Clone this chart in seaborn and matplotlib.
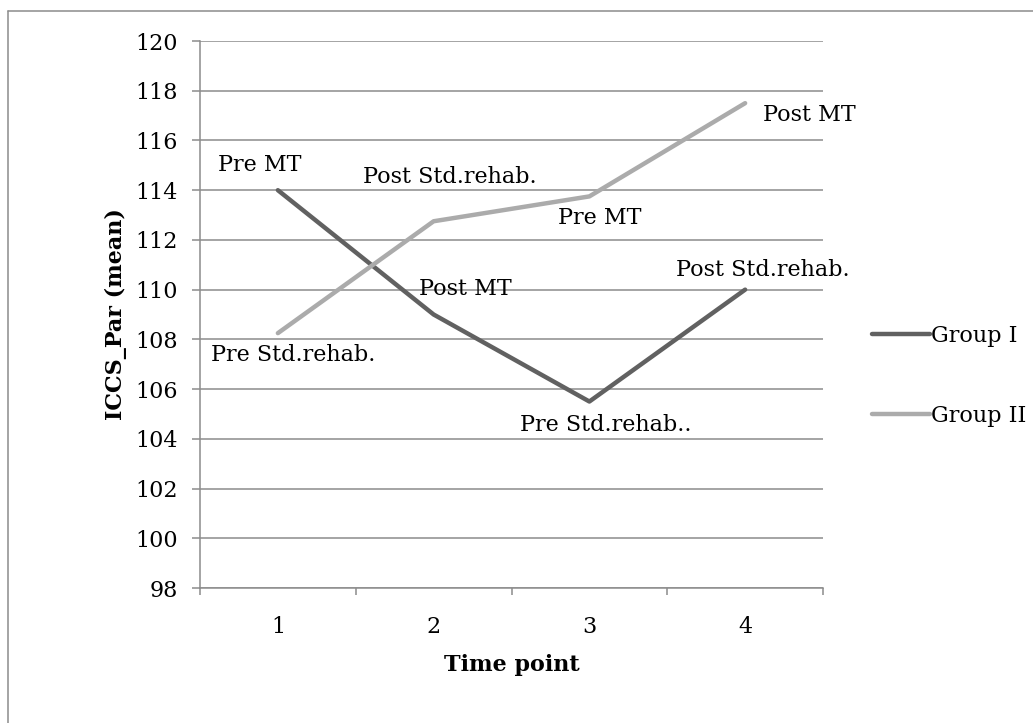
import seaborn as sns
import matplotlib.pyplot as plt
import matplotlib.lines as mlines
import numpy as np
import pandas as pd

time_points = [1, 2, 3, 4]
group_1 = [114, 109, 105.5, 110]
group_2 = [108.25, 112.75, 113.75, 117.5]
labels_1 = ["Pre MT", "Post MT", "Pre Std.rehab..", "Post Std.rehab."]
labels_2 = ["Pre Std.rehab.", "Post Std.rehab.", "Pre MT", "Post MT"]
y_ticks = list(range(98, 121, 2))

df = pd.DataFrame({
    "time": time_points * 2,
    "value": group_1 + group_2,
    "group": ["Group I"] * 4 + ["Group II"] * 4,
})

sns.set_style("white")
plt.rcParams["font.family"] = ["DejaVu Serif"]
plt.rcParams["text.color"] = "black"
plt.rcParams["xtick.color"] = "#8c8c8c"
plt.rcParams["ytick.color"] = "#8c8c8c"
plt.rcParams["xtick.labelcolor"] = "black"
plt.rcParams["ytick.labelcolor"] = "black"
plt.rcParams["axes.labelcolor"] = "black"
fs = 16

fig = plt.figure(figsize=(10.33, 7.23), dpi=100)
ax = fig.add_axes([200 / 1033, 1 - 588 / 723, 623 / 1033, 547 / 723])

colors = {"Group I": "#616161", "Group II": "#ababab"}
sns.lineplot(data=df, x="time", y="value", hue="group", palette=colors,
             linewidth=3.2, ax=ax, legend=False, solid_capstyle="round", zorder=3)

ax.set_xlim(0.5, 4.5)
ax.set_ylim(98, 120)
ax.set_yticks(y_ticks)
ax.set_xticks(time_points)
ax.set_xticks([0.5, 1.5, 2.5, 3.5, 4.5], minor=True)
ax.grid(axis="y", color="#8c8c8c", linewidth=1.1, zorder=0)
ax.tick_params(axis="y", left=True, length=6, width=1.1, pad=10, labelsize=fs)
ax.tick_params(axis="x", which="major", length=0, pad=20, labelsize=fs)
ax.tick_params(axis="x", which="minor", bottom=True, length=5, width=1.1)
for side in ["top", "right"]:
    ax.spines[side].set_visible(False)
for side in ["left", "bottom"]:
    ax.spines[side].set_color("#8c8c8c")
    ax.spines[side].set_linewidth(1.1)

ax.set_xlabel("Time point", fontsize=fs, fontweight="bold", labelpad=12)
ax.set_ylabel("ICCS_Par (mean)", fontsize=fs, fontweight="bold", labelpad=6)

# point labels
offs_1 = [(-18, 25), (32, 26), (16, -23), (18, 20)]
offs_2 = [(15, -22), (16, 44), (10, -22), (64, -12)]
for x, y, t, o in zip(time_points, group_1, labels_1, offs_1):
    ax.annotate(t, (x, y), xytext=o, textcoords="offset pixels",
                ha="center", va="center", fontsize=fs, zorder=4)
for x, y, t, o in zip(time_points, group_2, labels_2, offs_2):
    ax.annotate(t, (x, y), xytext=o, textcoords="offset pixels",
                ha="center", va="center", fontsize=fs, zorder=4)

handles = [mlines.Line2D([], [], color=colors[g], linewidth=3.2, solid_capstyle="round")
           for g in ["Group I", "Group II"]]
fig.legend(handles, ["Group I", "Group II"], loc="center left",
           bbox_to_anchor=(852 / 1033, 1 - 376 / 723), frameon=False,
           fontsize=fs, handlelength=2.6, handletextpad=0.05, labelspacing=2.6)

# outer frame (top and left edges)
fig.add_artist(mlines.Line2D([8 / 1033, 1], [1 - 11 / 723] * 2, color="#8c8c8c",
                             linewidth=1.1, transform=fig.transFigure))
fig.add_artist(mlines.Line2D([8 / 1033] * 2, [0, 1 - 11 / 723], color="#8c8c8c",
                             linewidth=1.1, transform=fig.transFigure))

fig.savefig("out.png", dpi=100)
